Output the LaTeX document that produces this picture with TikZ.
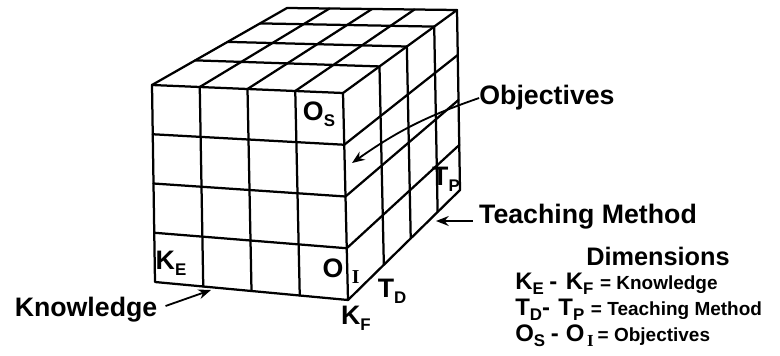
\documentclass[tikz,border=0pt]{standalone}
\usepackage{fontspec}
\setmainfont{Liberation Sans}
\newfontfamily\serifface{Liberation Serif}
\usetikzlibrary{arrows.meta,calc,positioning}

\newcommand{\dimlab}[2]{#1\raisebox{-0.4ex}{\fontsize{12}{12}\selectfont #2}}
\newcommand{\dimtext}[1]{{\fontsize{13.5}{13.5}\selectfont #1}}
\newcommand{\romanI}{{\serifface\bfseries I}}

\tikzset{
  edge/.style={line width=1.6pt, line join=round, line cap=round},
  cubelabel/.style={font=\fontsize{19}{19}\selectfont\bfseries, inner sep=0pt},
  callout/.style={font=\fontsize{19}{19}\selectfont\bfseries, inner sep=0pt},
  legendline/.style={font=\fontsize{17}{17}\selectfont\bfseries, inner sep=0pt, anchor=base west},
  pointer/.style={line width=1.3pt, -{Stealth[length=9pt,width=7pt]}},
}

\begin{document}
\begin{tikzpicture}[x=0.025cm, y=-0.025cm]
\useasboundingbox (0,0) rectangle (780,355);

% corners of the cube
\coordinate (ftl) at (152, 85);
\coordinate (ftr) at (343, 93);
\coordinate (fbl) at (155, 282);
\coordinate (fbr) at (348, 300);
\coordinate (btl) at (287, 8);
\coordinate (btr) at (457, 10);
\coordinate (bbr) at (460, 190);

% front face
\draw [edge] (ftl) -- (ftr) -- (fbr) -- (fbl) -- cycle;
\foreach \t in {0.25, 0.5, 0.75} {
  \draw [edge] ($(ftl)!\t!(ftr)$) -- ($(fbl)!\t!(fbr)$);
  \draw [edge] ($(ftl)!\t!(fbl)$) -- ($(ftr)!\t!(fbr)$);
}

% top face
\draw [edge] (ftl) -- (btl) -- (btr) -- (ftr);
\foreach \t in {0.25, 0.5, 0.75}
  \draw [edge] ($(ftl)!\t!(ftr)$) -- ($(btl)!\t!(btr)$);
\foreach \t in {0.32, 0.56, 0.8}
  \draw [edge] ($(ftl)!\t!(btl)$) -- ($(ftr)!\t!(btr)$);

% right face
\draw [edge] (btr) -- (bbr) -- (fbr);
\foreach \t in {0.32, 0.56, 0.8}
  \draw [edge] ($(ftr)!\t!(btr)$) -- ($(fbr)!\t!(bbr)$);
\foreach \t in {0.25, 0.5, 0.75}
  \draw [edge] ($(ftr)!\t!(fbr)$) -- ($(btr)!\t!(bbr)$);

% labels on the cube
\node[cubelabel] (os) at (319, 114) {\dimlab{O}{S}};
\node[cubelabel] (oi) at (341, 271) {O\hspace{6pt}\raisebox{-0.4ex}{\fontsize{14}{14}\selectfont\romanI}};
\node[cubelabel] (ke) at (171, 263) {\dimlab{K}{E}};
\node[cubelabel] (kf) at (356, 318) {\dimlab{K}{F}};
\node[cubelabel] (td) at (392, 291) {\dimlab{T}{D}};
\node[cubelabel] (tp) at (446, 179) {\dimlab{T}{P}};

% callouts
\node[callout] (objectives) at (547, 98) {Objectives};
\node[callout] (teaching) at (588, 217) {Teaching Method};
\node[callout] (knowledge) at (86, 310) {Knowledge};

\coordinate (objtip) at (352, 163);
\coordinate (teachtip) at (436, 221);
\coordinate (knowtip) at (211, 290);

\draw [pointer] (objectives.west) to [bend right=8] (objtip);
\draw [pointer] ($(teaching.west)+(-6,4)$) -- (teachtip);
\draw [pointer] ($(knowledge.east)+(8,-4)$) -- (knowtip);

% legend
\node[callout, font=\fontsize{18}{18}\selectfont\bfseries] (dims) at (658, 256) {Dimensions};
\node[legendline] (lk) at (515, 289) {\dimlab{K}{E}\hspace{4pt}-\hspace{6pt}\dimlab{K}{F} \dimtext{= Knowledge}};
\node[legendline] (lt) at (515, 315) {\dimlab{T}{D}-\hspace{6pt}\dimlab{T}{P} \dimtext{= Teaching Method}};
\node[legendline] (lo) at (515, 341) {\dimlab{O}{S}\hspace{4pt}-\hspace{5pt}O\hspace{2pt}\raisebox{-0.4ex}{\fontsize{12}{12}\selectfont\romanI}\,\dimtext{= Objectives}};
\end{tikzpicture}
\end{document}
